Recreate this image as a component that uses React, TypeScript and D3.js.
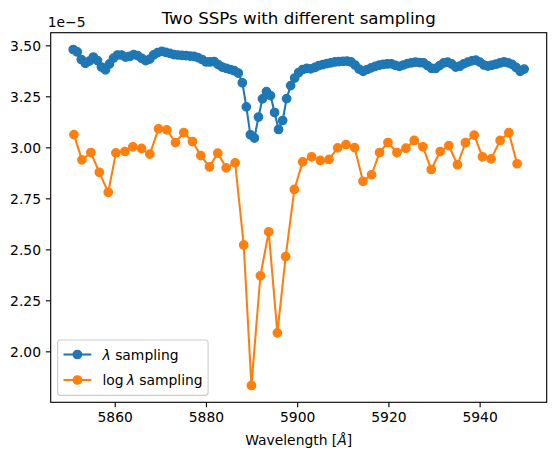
import React from "react";
import * as d3 from "d3";

// λ sampling (blue)
const BLUE_WAVE = [
  5850.80, 5851.68, 5852.57, 5853.45, 5854.33, 5855.21, 5856.10, 5856.98, 5857.86, 5858.74,
  5859.63, 5860.51, 5861.39, 5862.27, 5863.16, 5864.04, 5864.92, 5865.80, 5866.69, 5867.57,
  5868.45, 5869.33, 5870.22, 5871.10, 5871.98, 5872.87, 5873.75, 5874.63, 5875.51, 5876.40,
  5877.28, 5878.16, 5879.04, 5879.93, 5880.81, 5881.69, 5882.57, 5883.46, 5884.34, 5885.22,
  5886.10, 5886.99, 5887.87, 5888.75, 5889.63, 5890.52, 5891.40, 5892.28, 5893.16, 5894.05,
  5894.93, 5895.81, 5896.70, 5897.58, 5898.46, 5899.34, 5900.23, 5901.11, 5901.99, 5902.87,
  5903.76, 5904.64, 5905.52, 5906.40, 5907.29, 5908.17, 5909.05, 5909.93, 5910.82, 5911.70,
  5912.58, 5913.46, 5914.35, 5915.23, 5916.11, 5917.00, 5917.88, 5918.76, 5919.64, 5920.53,
  5921.41, 5922.29, 5923.17, 5924.06, 5924.94, 5925.82, 5926.70, 5927.59, 5928.47, 5929.35,
  5930.23, 5931.12, 5932.00, 5932.88, 5933.76, 5934.65, 5935.53, 5936.41, 5937.30, 5938.18,
  5939.06, 5939.94, 5940.83, 5941.71, 5942.59, 5943.47, 5944.36, 5945.24, 5946.12, 5947.00,
  5947.89, 5948.77, 5949.65,
];
// flux in units of 1e-5
const BLUE_FLUX = [
  3.482, 3.470, 3.433, 3.414, 3.425, 3.445, 3.428, 3.396, 3.382, 3.411,
  3.440, 3.455, 3.455, 3.445, 3.448, 3.457, 3.452, 3.439, 3.428, 3.435,
  3.456, 3.467, 3.473, 3.468, 3.463, 3.457, 3.455, 3.453, 3.452, 3.450,
  3.448, 3.442, 3.433, 3.421, 3.421, 3.423, 3.408, 3.396, 3.390, 3.384,
  3.378, 3.366, 3.319, 3.201, 3.064, 3.048, 3.151, 3.240, 3.275, 3.256,
  3.173, 3.090, 3.134, 3.241, 3.305, 3.342, 3.369, 3.384, 3.389, 3.387,
  3.394, 3.403, 3.408, 3.413, 3.417, 3.421, 3.423, 3.424, 3.425, 3.421,
  3.406, 3.386, 3.375, 3.384, 3.392, 3.399, 3.405, 3.409, 3.411, 3.412,
  3.404, 3.399, 3.406, 3.413, 3.417, 3.420, 3.418, 3.416, 3.403, 3.390,
  3.389, 3.403, 3.416, 3.420, 3.411, 3.396, 3.400, 3.412, 3.420, 3.426,
  3.430, 3.420, 3.406, 3.401, 3.405, 3.410, 3.416, 3.421, 3.417, 3.409,
  3.394, 3.375, 3.386,
];

// log λ sampling (orange)
const ORANGE_WAVE = [
  5850.95, 5852.70, 5854.67, 5856.51, 5858.48, 5860.15, 5862.12, 5863.87, 5865.77, 5867.59,
  5869.49, 5871.31, 5873.22, 5875.03, 5876.94, 5878.76, 5880.66, 5882.48, 5884.32, 5886.29,
  5888.17, 5889.86, 5891.83, 5893.65, 5895.55, 5897.37, 5899.27, 5901.09, 5903.06, 5904.97,
  5906.87, 5908.76, 5910.59, 5912.48, 5914.32, 5916.20, 5917.95, 5919.79, 5921.76, 5923.73,
  5925.55, 5927.45, 5929.27, 5931.24, 5933.15, 5935.03, 5936.78, 5938.69, 5940.51, 5942.41,
  5944.38, 5946.29, 5948.10,
];
const ORANGE_FLUX = [
  3.065, 2.941, 2.977, 2.880, 2.782, 2.975, 2.982, 3.005, 2.997, 2.969,
  3.093, 3.088, 3.026, 3.075, 3.031, 2.962, 2.907, 2.974, 2.902, 2.926,
  2.524, 1.835, 2.373, 2.588, 2.093, 2.467, 2.796, 2.931, 2.956, 2.938,
  2.943, 3.000, 3.016, 3.001, 2.836, 2.868, 2.977, 3.026, 2.977, 2.998,
  3.036, 3.005, 2.894, 2.982, 3.011, 2.917, 3.025, 3.062, 2.956, 2.946,
  3.036, 3.074, 2.922,
];

const X_TICKS = [5860, 5880, 5900, 5920, 5940];
const Y_TICKS = [2.0, 2.25, 2.5, 2.75, 3.0, 3.25, 3.5];

const W = 556;
const H = 461;
const AX_L = 50.7;
const AX_T = 32.7;
const AX_W = 496;
const AX_H = 369.6;

const BLUE = "#1f77b4";
const ORANGE = "#ff7f0e";
const FONT = "'DejaVu Sans', sans-serif";
const MR = 4.17;
const MEW = 1.39;

function padExtent(vals: number[]): [number, number] {
  const [a, b] = d3.extent(vals) as [number, number];
  const p = (b - a) * 0.05;
  return [a - p, b + p];
}

export default function App() {
  const x = d3
    .scaleLinear()
    .domain(padExtent([...BLUE_WAVE, ...ORANGE_WAVE]))
    .range([AX_L, AX_L + AX_W]);
  const y = d3
    .scaleLinear()
    .domain(padExtent([...BLUE_FLUX, ...ORANGE_FLUX]))
    .range([AX_T + AX_H, AX_T]);

  const line = d3
    .line<[number, number]>()
    .x((d) => x(d[0]))
    .y((d) => y(d[1]));

  const blue: [number, number][] = BLUE_WAVE.map((w, i) => [w, BLUE_FLUX[i]]);
  const orange: [number, number][] = ORANGE_WAVE.map((w, i) => [w, ORANGE_FLUX[i]]);

  const bottom = AX_T + AX_H;
  const tick = 4.86;

  const legX = 57.6;
  const legY = 340;
  const legW = 150.5;
  const legH = 55.4;
  const row1 = 354.5;
  const row2 = 380;
  const hx0 = 63.5;
  const hx1 = 91.3;
  const tx = 102.5;

  return (
    <div style={{ position: "fixed", left: 0, top: 0, width: W, height: H, background: "#fff" }}>
      <svg width={W} height={H} style={{ display: "block" }} fontFamily={FONT}>
        <rect x={0} y={0} width={W} height={H} fill="#fff" />
        <defs>
          <clipPath id="axclip">
            <rect x={AX_L} y={AX_T} width={AX_W} height={AX_H} />
          </clipPath>
        </defs>

        {/* series */}
        <g clipPath="url(#axclip)">
          <path d={line(blue) || ""} fill="none" stroke={BLUE} strokeWidth={2.08} strokeLinejoin="round" />
          {blue.map((d, i) => (
            <circle key={"b" + i} cx={x(d[0])} cy={y(d[1])} r={MR} fill={BLUE} stroke={BLUE} strokeWidth={MEW} />
          ))}
          <path d={line(orange) || ""} fill="none" stroke={ORANGE} strokeWidth={2.08} strokeLinejoin="round" />
          {orange.map((d, i) => (
            <circle key={"o" + i} cx={x(d[0])} cy={y(d[1])} r={MR} fill={ORANGE} stroke={ORANGE} strokeWidth={MEW} />
          ))}
        </g>

        {/* spines */}
        <rect x={AX_L} y={AX_T} width={AX_W} height={AX_H} fill="none" stroke="#000" strokeWidth={1.11} />

        {/* x ticks */}
        {X_TICKS.map((t) => (
          <g key={"xt" + t}>
            <line x1={x(t)} x2={x(t)} y1={bottom} y2={bottom + tick} stroke="#000" strokeWidth={1.11} />
            <text x={x(t)} y={bottom + 20} fontSize={13.89} textAnchor="middle" fill="#000">
              {t}
            </text>
          </g>
        ))}

        {/* y ticks */}
        {Y_TICKS.map((t) => (
          <g key={"yt" + t}>
            <line x1={AX_L - tick} x2={AX_L} y1={y(t)} y2={y(t)} stroke="#000" strokeWidth={1.11} />
            <text x={AX_L - 9.7} y={y(t) + 5} fontSize={13.89} textAnchor="end" fill="#000">
              {t.toFixed(2)}
            </text>
          </g>
        ))}

        {/* offset text */}
        <text x={AX_L - 3} y={AX_T - 5.5} fontSize={13.89} fill="#000">
          1e−5
        </text>

        {/* title */}
        <text x={AX_L + AX_W / 2} y={AX_T - 8.3} fontSize={16.67} textAnchor="middle" fill="#000">
          Two SSPs with different sampling
        </text>

        {/* x label */}
        <text x={AX_L + AX_W / 2} y={445} fontSize={13.89} textAnchor="middle" fill="#000">
          Wavelength [<tspan fontStyle="italic">Å</tspan>]
        </text>

        {/* legend */}
        <rect
          x={legX}
          y={legY}
          width={legW}
          height={legH}
          rx={2.8}
          fill="#fff"
          fillOpacity={0.8}
          stroke="#cccccc"
          strokeWidth={1.11}
        />
        <line x1={hx0} x2={hx1} y1={row1} y2={row1} stroke={BLUE} strokeWidth={2.08} />
        <circle cx={(hx0 + hx1) / 2} cy={row1} r={MR} fill={BLUE} stroke={BLUE} strokeWidth={MEW} />
        <text x={tx} y={row1 + 5} fontSize={13.89} fill="#000">
          <tspan fontStyle="italic">λ</tspan> sampling
        </text>
        <line x1={hx0} x2={hx1} y1={row2} y2={row2} stroke={ORANGE} strokeWidth={2.08} />
        <circle cx={(hx0 + hx1) / 2} cy={row2} r={MR} fill={ORANGE} stroke={ORANGE} strokeWidth={MEW} />
        <text x={tx} y={row2 + 5} fontSize={13.89} fill="#000">
          log<tspan dx={3} fontStyle="italic">λ</tspan> sampling
        </text>
      </svg>
    </div>
  );
}
